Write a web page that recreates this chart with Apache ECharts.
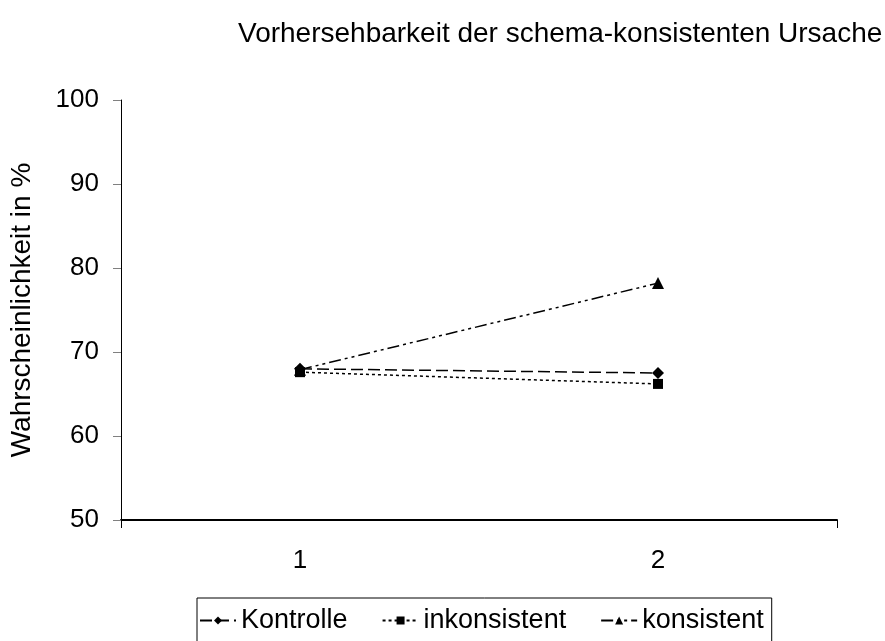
<!DOCTYPE html>
<html>
<head>
<meta charset="utf-8">
<script src="https://cdn.jsdelivr.net/npm/echarts@6/dist/echarts.min.js"></script>
<style>
html,body{margin:0;padding:0;background:#fff;}
#c{width:885px;height:641px;}
</style>
</head>
<body>
<div id="c"></div>
<script>
const categories = ['1', '2'];
const kontrolle = [68.0, 67.5];
const inkonsistent = [67.6, 66.2];
const konsistent = [67.9, 78.2];
const yTicks = [50, 60, 70, 80, 90, 100];

const font = 'Liberation Sans, Arial, sans-serif';
function pts(arr){ return arr.map((v,i)=>[i+1, v]); }

const chart = echarts.init(document.getElementById('c'));
chart.setOption({
  animation:false,
  backgroundColor:'#fff',
  title:{
    text:'Vorhersehbarkeit der schema-konsistenten Ursache',
    left:233, top:15,
    textStyle:{fontFamily:font, fontSize:28, fontWeight:'normal', color:'#000'}
  },
  legend:{
    top:598, left:197,
    data:['Kontrolle','inkonsistent','konsistent'],
    itemWidth:36, itemHeight:10, itemGap:34,
    padding:[9,8,20,2],
    borderColor:'#000', borderWidth:1,
    textStyle:{fontFamily:font, fontSize:27, color:'#000'}
  },
  grid:{left:121, right:48, top:100, bottom:121, containLabel:false},
  xAxis:{
    type:'value', min:0.5, max:2.5,
    axisLine:{lineStyle:{color:'#000', width:2}},
    axisTick:{show:true, length:8, customValues:[0.5, 2.5], lineStyle:{color:'#000'}},
    axisLabel:{customValues:[1,2], formatter:v=>categories[Math.round(v)-1], margin:28,
      fontFamily:font, fontSize:26, color:'#000'},
    splitLine:{show:false}
  },
  yAxis:{
    type:'value', min:50, max:100, interval:10,
    name:'Wahrscheinlichkeit in %', nameLocation:'middle', nameGap:85,
    nameTextStyle:{fontFamily:font, fontSize:28, color:'#000'},
    axisLine:{show:true, lineStyle:{color:'#000'}},
    axisTick:{show:true, length:8, lineStyle:{color:'#808080'}},
    axisLabel:{fontFamily:font, fontSize:26, color:'#000', margin:22,
      formatter:v=>yTicks.includes(v)? String(v):''},
    splitLine:{show:false}
  },
  series:[
    {name:'Kontrolle', type:'line', data:pts(kontrolle), symbol:'diamond', symbolSize:12,
      itemStyle:{color:'#000'}, lineStyle:{color:'#000', width:1.5, type:[12,5]}},
    {name:'inkonsistent', type:'line', data:pts(inkonsistent), symbol:'rect', symbolSize:10,
      itemStyle:{color:'#000'}, lineStyle:{color:'#000', width:1.5, type:[3,3]}},
    {name:'konsistent', type:'line', data:pts(konsistent), symbol:'triangle', symbolSize:12,
      itemStyle:{color:'#000'}, lineStyle:{color:'#000', width:1.5, type:[12,4,3,4,3,4]}}
  ]
});
</script>
</body>
</html>
